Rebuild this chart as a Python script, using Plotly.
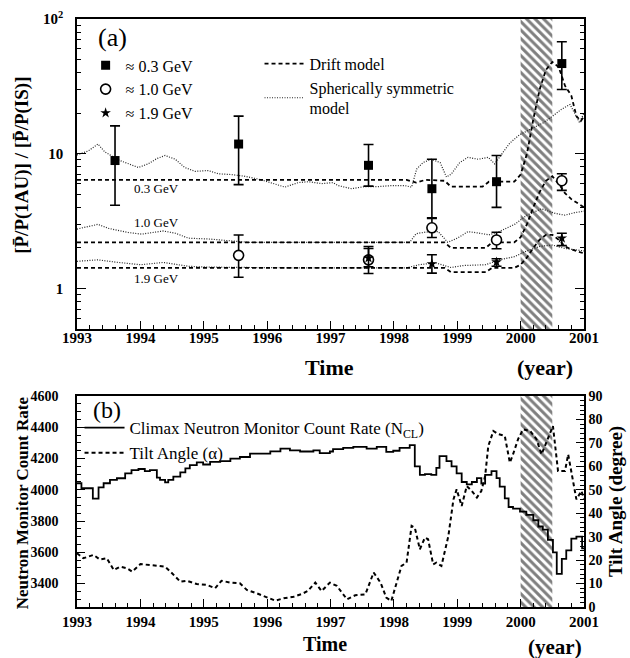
import numpy as np
import plotly.graph_objects as go

# ---------------- Panel (a) data ----------------
t03 = [1993.6, 1995.55, 1997.6, 1998.6, 1999.62, 2000.65]
v03 = [8.9, 11.8, 8.2, 5.5, 6.2, 46.7]
lo03 = [4.15, 5.9, 5.75, 3.35, 4.0, 30.0]
hi03 = [16.1, 19.0, 11.7, 9.1, 9.7, 67.8]

t10 = [1995.55, 1997.6, 1998.6, 1999.62, 2000.65]
v10 = [1.76, 1.63, 2.82, 2.29, 6.3]
lo10 = [1.21, 1.29, 2.39, 1.97, 5.34]
hi10 = [2.49, 2.05, 3.31, 2.61, 7.1]

t19 = [1997.6, 1998.6, 1999.62, 2000.65]
v19 = [1.68, 1.52, 1.57, 2.36]
lo19 = [1.45, 1.30, 1.46, 2.08]
hi19 = [1.98, 1.78, 1.66, 2.57]

drift03_t = [1993.0, 1995.5, 1998.2, 1998.35, 1998.5, 1998.8, 1998.9, 1999.4, 1999.5, 1999.9,
             2000.0, 2000.1, 2000.2, 2000.3, 2000.4, 2000.5, 2000.6, 2000.7, 2000.8, 2000.88, 2000.95, 2001.0]
drift03_v = [6.4, 6.4, 6.4, 6.1, 6.4, 6.3, 5.7, 5.7, 6.2, 6.2,
             7.0, 10.0, 18.0, 30.0, 42.0, 48.0, 44.0, 32.0, 27.0, 19.0, 17.5, 19.0]

drift10_t = [1993.0, 1998.8, 1998.9, 1999.45, 1999.55, 1999.9, 2000.0, 2000.1, 2000.2, 2000.3,
             2000.4, 2000.5, 2000.6, 2000.7, 2000.8, 2000.9, 2001.0]
drift10_v = [2.2, 2.2, 2.0, 2.0, 2.2, 2.2, 2.4, 3.0, 4.0, 5.2, 6.3, 6.8, 6.0, 5.1, 4.6, 4.3, 4.0]

drift19_t = [1993.0, 1998.8, 1998.9, 1999.45, 1999.55, 1999.9, 2000.0, 2000.1, 2000.2, 2000.3,
             2000.4, 2000.5, 2000.6, 2000.7, 2000.8, 2000.9, 2001.0]
drift19_v = [1.42, 1.42, 1.32, 1.32, 1.42, 1.42, 1.5, 1.7, 2.0, 2.3, 2.5, 2.5, 2.3, 2.05, 1.95, 1.88, 1.82]

ss03_t = [1993.0, 1993.18, 1993.33, 1993.44, 1993.65, 1993.81, 1993.97, 1994.12, 1994.26, 1994.39,
          1994.55, 1994.7, 1994.86, 1995.07, 1995.23, 1995.44, 1995.65, 1995.91, 1996.12, 1996.28,
          1996.49, 1996.65, 1996.86, 1997.04, 1997.12, 1997.33, 1997.54, 1997.75, 1997.96, 1998.17,
          1998.28, 1998.36, 1998.46, 1998.59, 1998.73, 1998.83, 1998.91, 1999.04, 1999.17, 1999.33,
          1999.49, 1999.59, 1999.7, 1999.83, 1999.98, 2000.15, 2000.36, 2000.51, 2000.64, 2000.78,
          2000.88, 2000.93, 2001.0]
ss03_v = [9.8, 10.5, 11.8, 10.3, 9.0, 8.4, 7.9, 8.4, 9.2, 9.7,
          9.1, 7.9, 7.4, 7.5, 7.1, 7.0, 6.8, 6.4, 6.0, 5.65,
          6.1, 6.2, 6.0, 6.1, 5.8, 5.5, 5.7, 5.7, 5.8, 5.8,
          5.65, 7.7, 8.6, 9.1, 8.6, 6.7, 7.1, 8.6, 9.4, 9.1,
          9.4, 8.4, 9.9, 12.0, 13.8, 15.2, 17.0, 19.1, 21.3, 23.2,
          19.1, 17.0, 20.1]

ss10_t = [1993.0, 1993.33, 1993.5, 1993.81, 1994.02, 1994.36, 1994.55, 1994.76, 1995.07, 1995.39,
          1995.7, 1996.5, 1997.0, 1997.5, 1998.0, 1998.25, 1998.35, 1998.5, 1998.7, 1998.85,
          1999.0, 1999.17, 1999.33, 1999.5, 1999.66, 1999.91, 2000.1, 2000.33, 2000.55, 2000.7,
          2000.85, 2001.0]
ss10_v = [2.76, 2.99, 2.79, 2.6, 2.53, 2.67, 2.57, 2.36, 2.33, 2.25,
          2.2, 2.2, 2.2, 2.18, 2.2, 2.2, 2.55, 2.62, 2.64, 2.2,
          2.36, 2.64, 2.58, 2.5, 2.64, 3.0, 3.5, 3.9, 3.6, 3.5,
          3.65, 3.75]

ss19_t = [1993.0, 1993.33, 1993.6, 1994.0, 1994.36, 1994.76, 1995.07, 1995.5, 1996.5, 1997.5,
          1998.2, 1998.4, 1998.65, 1998.9, 1999.1, 1999.45, 1999.66, 1999.9, 2000.1, 2000.3,
          2000.5, 2000.7, 2000.85, 2001.0]
ss19_v = [1.59, 1.63, 1.57, 1.5, 1.56, 1.46, 1.44, 1.43, 1.42, 1.42,
          1.42, 1.5, 1.55, 1.43, 1.48, 1.5, 1.63, 1.72, 1.9, 2.05,
          2.1, 1.98, 1.95, 1.9]

# ---------------- Panel (b) data ----------------
nm_t = [1993.0, 1993.07, 1993.25, 1993.34, 1993.42, 1993.52, 1993.63, 1993.76, 1993.86, 1993.97,
        1994.07, 1994.15, 1994.26, 1994.31, 1994.39, 1994.44, 1994.52, 1994.63, 1994.71, 1994.78,
        1994.89, 1994.99, 1995.1, 1995.26, 1995.42, 1995.57, 1995.73, 1996.05, 1996.21, 1996.36,
        1996.52, 1996.73, 1996.83, 1996.99, 1997.04, 1997.2, 1997.36, 1997.57, 1997.73, 1997.88,
        1997.99, 1998.09, 1998.25, 1998.33, 1998.41, 1998.49, 1998.59, 1998.67, 1998.72, 1998.83,
        1998.91, 1998.99, 1999.07, 1999.15, 1999.23, 1999.31, 1999.38, 1999.44, 1999.54, 1999.62,
        1999.67, 1999.75, 1999.81, 1999.88, 1999.99, 2000.09, 2000.2, 2000.28, 2000.35, 2000.43,
        2000.51, 2000.57, 2000.65, 2000.72, 2000.8, 2000.88, 2000.97, 2001.0]
nm_v = [4042, 4010, 3943, 4015, 4042, 4063, 4074, 4105, 4126, 4133,
        4120, 4126, 4078, 4063, 4048, 4063, 4084, 4112, 4137, 4158,
        4175, 4162, 4179, 4183, 4200, 4210, 4231, 4246, 4263, 4252,
        4245, 4252, 4235, 4245, 4260, 4268, 4275, 4264, 4275, 4243,
        4250, 4268, 4286, 4150, 4095, 4100, 4095, 4140, 4215, 4183,
        4150, 4105, 4050, 4035, 4050, 4075, 4040, 4095, 4120, 4075,
        4020, 3945, 3890, 3880, 3860, 3840, 3805, 3765, 3745, 3680,
        3600, 3462, 3558, 3612, 3688, 3700, 3625, 3625]

tilt_t = [1993.0, 1993.1, 1993.26, 1993.36, 1993.47, 1993.58, 1993.68, 1993.79, 1993.87, 1994.0,
          1994.15, 1994.39, 1994.5, 1994.63, 1994.73, 1994.89, 1995.05, 1995.18, 1995.28, 1995.42,
          1995.57, 1995.68, 1995.84, 1995.97, 1996.13, 1996.26, 1996.42, 1996.55, 1996.64, 1996.76,
          1996.86, 1996.99, 1997.1, 1997.26, 1997.39, 1997.55, 1997.68, 1997.79, 1997.88, 1997.96,
          1998.04, 1998.12, 1998.2, 1998.28, 1998.33, 1998.41, 1998.49, 1998.54, 1998.62, 1998.67,
          1998.75, 1998.86, 1998.94, 1998.99, 1999.07, 1999.15, 1999.23, 1999.31, 1999.38, 1999.44,
          1999.49, 1999.57, 1999.65, 1999.75, 1999.83, 1999.88, 1999.96, 2000.04, 2000.15, 2000.25,
          2000.33, 2000.43, 2000.51, 2000.59, 2000.7, 2000.75, 2000.8, 2000.88, 2000.96, 2001.0]
tilt_v = [22.9, 20.8, 22.2, 20.3, 20.8, 15.8, 17.2, 16.5, 15.1, 18.3,
          17.9, 17.2, 14.4, 10.8, 11.2, 9.8, 9.4, 8.0, 11.2, 10.4,
          10.1, 7.3, 5.8, 4.4, 2.7, 3.7, 4.4, 5.6, 6.8, 10.4,
          6.8, 10.4, 9.0, 3.3, 5.0, 5.4, 14.7, 10.4, 4.0, 2.6,
          10.4, 17.5, 18.9, 34.6, 33.9, 24.6, 29.6, 28.9, 18.2, 18.9,
          17.5, 30.3, 45.9, 50.2, 43.1, 51.6, 49.5, 46.7, 49.5, 55.9,
          68.7, 75.1, 73.7, 73.0, 61.6, 65.1, 71.6, 75.8, 75.1, 71.6,
          65.1, 71.6, 77.2, 58.0, 58.0, 65.1, 57.3, 45.9, 49.5, 46.0]

shade_years = [2000.0, 2000.5]
x_range = [1993, 2001]
ya_range = [0.5, 100]
ya_ticks = [1, 10, 100]
ya_ticktext = ["1", "10", "10<sup>2</sup>"]
ya_minor = [0.5, 0.6, 0.7, 0.8, 0.9, 2, 3, 4, 5, 6, 7, 8, 9, 20, 30, 40, 50, 60, 70, 80, 90]
yb_range = [3250, 4600]
yc_range = [0, 90]

FONT = "Liberation Serif"
BLACK = "black"
DRIFT_DASH = "4px,3px"
SS_DASH = "1px,1.5px"

fig = go.Figure()


def hatch(yref_range, xaxis, yaxis):
    x0, x1 = shade_years
    y0, y1 = yref_range
    fig.add_trace(go.Scatter(
        x=[x0, x1, x1, x0, x0], y=[y0, y0, y1, y1, y0],
        xaxis=xaxis, yaxis=yaxis,
        mode="lines", fill="toself", line=dict(width=0),
        fillcolor="rgba(0,0,0,0)",
        fillpattern=dict(shape="\\", fgcolor=BLACK, bgcolor="rgba(255,255,255,0)",
                         size=6, solidity=0.5),
        showlegend=False, hoverinfo="skip"))


hatch(ya_range, "x", "y")
hatch(yb_range, "x2", "y2")

# model curves
for tt, vv in [(ss03_t, ss03_v), (ss10_t, ss10_v), (ss19_t, ss19_v)]:
    fig.add_trace(go.Scatter(x=tt, y=vv, mode="lines",
                             line=dict(color="#222", width=1.2, dash=SS_DASH),
                             showlegend=False, xaxis="x", yaxis="y"))
for tt, vv in [(drift03_t, drift03_v), (drift10_t, drift10_v), (drift19_t, drift19_v)]:
    fig.add_trace(go.Scatter(x=tt, y=vv, mode="lines",
                             line=dict(color=BLACK, width=1.8, dash=DRIFT_DASH),
                             showlegend=False, xaxis="x", yaxis="y"))

# legend entries for models
fig.add_trace(go.Scatter(x=[None], y=[None], mode="lines", name="Drift model",
                         line=dict(color=BLACK, width=1.8, dash=DRIFT_DASH),
                         legend="legend2", xaxis="x", yaxis="y"))
fig.add_trace(go.Scatter(x=[None], y=[None], mode="lines", name="Spherically symmetric<br>model",
                         line=dict(color="#222", width=1.2, dash=SS_DASH),
                         legend="legend2", xaxis="x", yaxis="y"))


def err(v, lo, hi):
    return dict(type="data", symmetric=False,
                array=[h - a for a, h in zip(v, hi)],
                arrayminus=[a - l for a, l in zip(v, lo)],
                color=BLACK, thickness=1.6, width=5)


fig.add_trace(go.Scatter(x=t03, y=v03, mode="markers", name="≈ 0.3 GeV",
                         marker=dict(symbol="square", size=9, color=BLACK),
                         error_y=err(v03, lo03, hi03), legend="legend", xaxis="x", yaxis="y"))
fig.add_trace(go.Scatter(x=t10, y=v10, mode="markers", name="≈ 1.0 GeV",
                         marker=dict(symbol="circle", size=10, color="white",
                                     line=dict(color=BLACK, width=1.6)),
                         error_y=err(v10, lo10, hi10), legend="legend", xaxis="x", yaxis="y"))
fig.add_trace(go.Scatter(x=t19, y=v19, mode="markers", name="≈ 1.9 GeV",
                         marker=dict(symbol="star", size=8, color=BLACK),
                         error_y=err(v19, lo19, hi19), legend="legend", xaxis="x", yaxis="y"))

# panel b
fig.add_trace(go.Scatter(x=nm_t, y=nm_v, mode="lines", line_shape="hv",
                         name="Climax Neutron Monitor Count Rate (N<sub>CL</sub>)",
                         line=dict(color=BLACK, width=1.8),
                         legend="legend3", xaxis="x2", yaxis="y2"))
fig.add_trace(go.Scatter(x=tilt_t, y=tilt_v, mode="lines", name="Tilt Angle (α)",
                         line=dict(color=BLACK, width=2, dash=DRIFT_DASH),
                         legend="legend3", xaxis="x2", yaxis="y3"))


def bold(size):
    return dict(family=FONT, size=size, color=BLACK, weight="bold")


def note(text, x, y, font, angle=0, xref="paper", yref="paper"):
    return dict(text=text, xref=xref, yref=yref, x=x, y=y, xanchor="center",
                yanchor="middle", textangle=angle, showarrow=False, font=font)


axis_common = dict(showline=True, linecolor=BLACK, linewidth=1.5, ticks="inside",
                   tickcolor=BLACK, showgrid=False, zeroline=False, tickwidth=1.3)

fig.update_layout(
    width=630, height=658,
    margin=dict(l=77, r=46, t=19, b=51, autoexpand=False),
    paper_bgcolor="white", plot_bgcolor="white",
    font=dict(family=FONT, color=BLACK),
    xaxis=dict(domain=[0, 1], anchor="y", range=x_range, dtick=1, ticklen=8,
               mirror=True, tickfont=bold(15), ticklabelstandoff=-6,
               minor=dict(dtick=0.2, ticklen=4, ticks="inside", tickcolor=BLACK),
               **axis_common),
    yaxis=dict(domain=[0.4728, 1.0], anchor="x", type="log",
               range=[np.log10(ya_range[0]), np.log10(ya_range[1])],
               tickvals=ya_ticks, ticktext=ya_ticktext, ticklen=9,
               mirror="ticks", tickfont=bold(15), ticklabelstandoff=9,
               minor=dict(tickmode="array", tickvals=ya_minor, ticks="inside", ticklen=4,
                          tickcolor=BLACK, showgrid=False),
               **axis_common),
    xaxis2=dict(domain=[0, 1], anchor="y2", range=x_range, dtick=1, ticklen=8,
                mirror=True, tickfont=bold(15), ticklabelstandoff=0,
                minor=dict(dtick=0.2, ticklen=4, ticks="inside", tickcolor=BLACK),
                **axis_common),
    yaxis2=dict(domain=[0, 0.3588], anchor="x2", range=yb_range, dtick=200, tick0=3400,
                ticklen=8, tickfont=bold(14), ticklabelstandoff=14,
                minor=dict(dtick=50, ticklen=4, ticks="inside", tickcolor=BLACK),
                **axis_common),
    yaxis3=dict(overlaying="y2", anchor="x2", side="right", range=yc_range, dtick=10,
                ticklen=8, tickfont=bold(14),
                minor=dict(dtick=2, ticklen=4, ticks="inside", tickcolor=BLACK),
                **axis_common),
    legend=dict(x=0.017, y=0.95, xanchor="left", yanchor="top", bgcolor="rgba(0,0,0,0)",
                font=dict(family=FONT, size=16, color=BLACK), itemwidth=30,
                tracegroupgap=0),
    legend2=dict(x=0.36, y=0.953, xanchor="left", yanchor="top", bgcolor="rgba(0,0,0,0)",
                 font=dict(family=FONT, size=16, color=BLACK), itemwidth=40),
    legend3=dict(x=0.005, y=0.335, xanchor="left", yanchor="top", bgcolor="rgba(0,0,0,0)",
                 font=dict(family=FONT, size=17, color=BLACK), itemwidth=40),
    annotations=[
        note("(a)", 0.071, 0.968, dict(family=FONT, size=26, color=BLACK)),
        note("(b)", 0.059, 0.335, dict(family=FONT, size=24, color=BLACK)),
        note("[P̄/P(1AU)] / [P̄/P(IS)]", -0.1085, 0.752, bold(19), angle=-90),
        note("Time", 0.499, 0.4065, bold(22)),
        note("(year)", 0.923, 0.4065, bold(22)),
        note("Neutron Monitor Count Rate", -0.1085, 0.178, bold(17), angle=-90),
        note("Tilt Angle (degree)", 1.063, 0.18, bold(19), angle=-90),
        note("Time", 0.489, -0.063, bold(20)),
        note("(year)", 0.943, -0.068, bold(21)),
        note("0.3 GeV", 1994.26, np.log10(5.5), dict(family=FONT, size=13, color=BLACK),
             xref="x", yref="y"),
        note("1.0 GeV", 1994.26, np.log10(3.1), dict(family=FONT, size=13, color=BLACK),
             xref="x", yref="y"),
        note("1.9 GeV", 1994.26, np.log10(1.18), dict(family=FONT, size=13, color=BLACK),
             xref="x", yref="y"),
    ],
)

fig.write_html("out.html", config={"displayModeBar": False},
               post_script="document.body.style.margin='0';document.body.style.padding='0';")
